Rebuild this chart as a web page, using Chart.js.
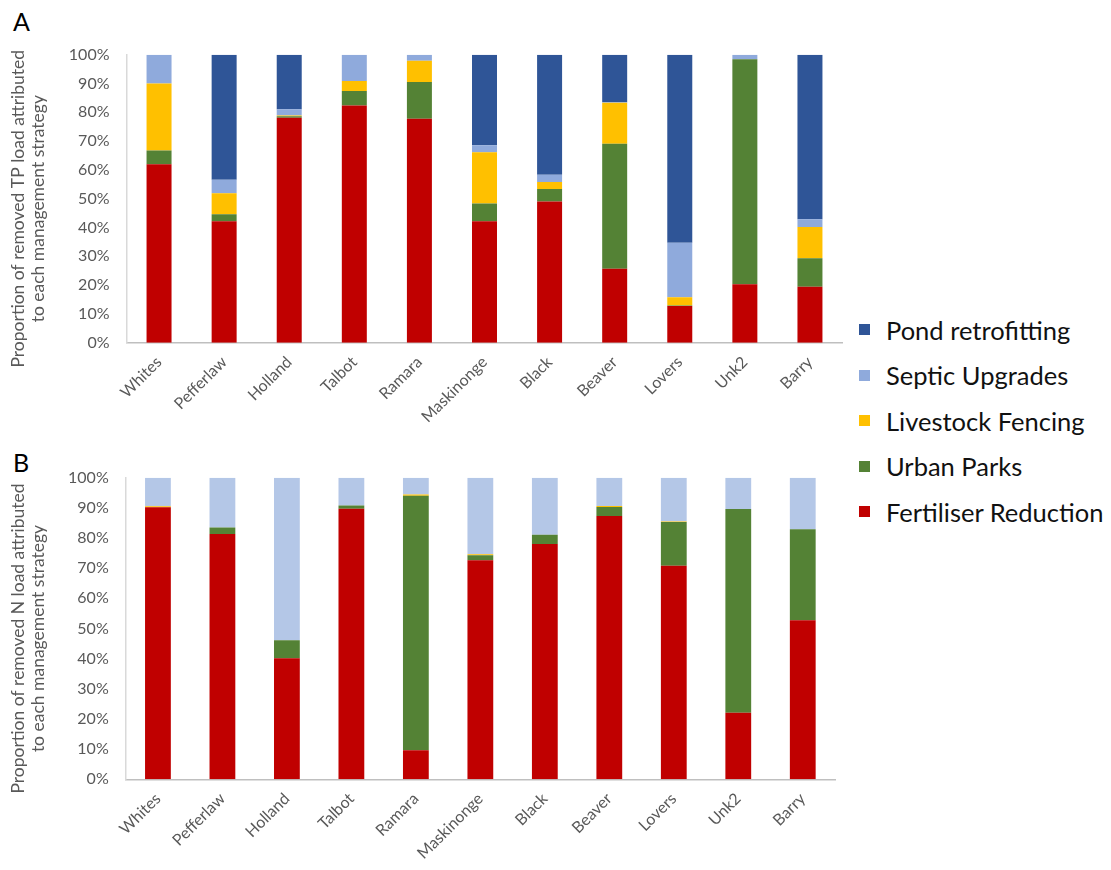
<!DOCTYPE html>
<html>
<head>
<meta charset="utf-8">
<script src="https://cdn.jsdelivr.net/npm/chart.js@4.4.1/dist/chart.umd.min.js"></script>
<style>
  html, body { margin: 0; padding: 0; background: #ffffff; }
  #wrap { position: relative; width: 1111px; height: 870px; font-family: Lato, "Open Sans", sans-serif; }
  canvas { position: absolute; left: 0; }
  #cA { top: 0; }
  #cB { top: 440px; }
  .panel { position: absolute; left: 13px; font-size: 25px; color: #000; line-height: 1; }
  #legend { position: absolute; left: 859px; top: 307px; }
  .item { display: flex; align-items: center; height: 45.5px; font-size: 25.5px; color: #111; }
  .sw { width: 11px; height: 11px; margin-right: 16px; flex: none; }
</style>
</head>
<body>
<div id="wrap">
  <div class="panel" style="top:9px">A</div>
  <div class="panel" style="top:450px">B</div>
  <canvas id="cA" width="850" height="440"></canvas>
  <canvas id="cB" width="850" height="430"></canvas>
  <div id="legend"></div>
</div>
<script>
// Sub-watersheds
const categories = ['Whites', 'Pefferlaw', 'Holland', 'Talbot', 'Ramara', 'Maskinonge', 'Black', 'Beaver', 'Lovers', 'Unk2', 'Barry'];

// Strategy names (bottom of the stack first)
const strategies = ['Fertiliser Reduction', 'Urban Parks', 'Livestock Fencing', 'Septic Upgrades', 'Pond retrofitting'];

// A: share of removed TP load (%)
const tpFertiliser = [62.0, 42.2, 78.1, 82.4, 77.8, 42.2, 49.0, 25.7, 12.7, 20.3, 19.4];
const tpUrban      = [4.7, 2.4, 0.5, 5.0, 12.7, 6.1, 4.4, 43.4, 0.2, 78.1, 9.9];
const tpLivestock  = [23.3, 7.3, 0.3, 3.5, 7.4, 17.8, 2.4, 14.2, 2.9, 0, 10.9];
const tpSeptic     = [10.0, 4.7, 2.2, 9.1, 2.1, 2.5, 2.5, 0.2, 18.9, 1.6, 2.7];
const tpPond       = [0, 43.4, 18.9, 0, 0, 31.4, 41.7, 16.5, 65.3, 0, 57.1];

// B: share of removed N load (%)
const nFertiliser = [90.2, 81.3, 40.1, 89.7, 9.6, 72.6, 78.0, 87.3, 70.8, 22.1, 52.7];
const nUrban      = [0, 2.2, 6.0, 1.1, 84.4, 1.7, 3.1, 3.0, 14.5, 67.5, 30.2];
const nLivestock  = [0.3, 0, 0, 0, 0.4, 0.3, 0, 0.3, 0.2, 0, 0];
const nSeptic     = [9.5, 16.5, 53.9, 9.2, 5.6, 25.4, 18.9, 9.4, 14.5, 10.4, 17.1];
const nPond       = [0, 0, 0, 0, 0, 0, 0, 0, 0, 0, 0];

// Y axis tick values
const yTicks = [0, 10, 20, 30, 40, 50, 60, 70, 80, 90, 100];

const colorsA = ['#c00000', '#548235', '#ffc000', '#8faadc', '#2f5597'];
const colorsB = ['#c00000', '#548235', '#ffc000', '#b4c7e7', '#2f5597'];

const FONT = 'Lato, "Open Sans", sans-serif';
const GREY = '#595959';

// Two-line rotated y-axis title, centred a little below the middle of the plot
const yTitlePlugin = {
  id: 'yTitle',
  afterDraw(chart, args, opts) {
    const { ctx, chartArea } = chart;
    const cy = (chartArea.top + chartArea.bottom) / 2 + opts.shift;
    ctx.save();
    ctx.fillStyle = GREY;
    ctx.font = opts.size + 'px ' + FONT;
    ctx.textAlign = 'center';
    ctx.textBaseline = 'middle';
    opts.lines.forEach((line, i) => {
      ctx.save();
      ctx.translate(opts.x + i * opts.lineGap, cy);
      ctx.rotate(-Math.PI / 2);
      ctx.fillText(line, 0, 0);
      ctx.restore();
    });
    ctx.restore();
  }
};

function makeChart(id, series, colors, titleLines, box) {
  const ctx = document.getElementById(id);
  return new Chart(ctx, {
    type: 'bar',
    plugins: [yTitlePlugin],
    data: {
      labels: categories,
      datasets: series.map((d, i) => ({
        label: strategies[i],
        data: d,
        backgroundColor: colors[i],
        borderWidth: 0,
        barPercentage: box.bar,
        categoryPercentage: 1
      }))
    },
    options: {
      responsive: false,
      animation: false,
      devicePixelRatio: 1,
      layout: { padding: { top: box.top, right: box.right, bottom: 0, left: 0 } },
      plugins: {
        legend: { display: false },
        tooltip: { enabled: false },
        yTitle: { lines: titleLines, x: 18, lineGap: 20, size: 17.5, shift: box.shift }
      },
      scales: {
        x: {
          stacked: true,
          grid: { display: false, drawTicks: false },
          border: { display: true, color: '#bfbfbf', width: 1.5 },
          ticks: {
            color: GREY, font: { family: FONT, size: 16 },
            minRotation: 45, maxRotation: 45, padding: 10, autoSkip: false
          },
          afterFit: s => { s.height = box.xh; }
        },
        y: {
          stacked: true,
          min: 0, max: 100,
          afterBuildTicks: s => { s.ticks = yTicks.map(v => ({ value: v })); },
          grid: { display: false, drawTicks: false },
          border: { display: true, color: '#d9d9d9', width: 1.5 },
          ticks: {
            color: GREY, font: { family: FONT, size: 16 }, padding: 17,
            callback: v => v + '%'
          },
          afterFit: s => { s.width = box.yw; }
        }
      }
    }
  });
}

makeChart('cA', [tpFertiliser, tpUrban, tpLivestock, tpSeptic, tpPond], colorsA,
  ['Proportion of removed TP load attributed', 'to each management strategy'],
  { top: 54.7, right: 7.5, xh: 97.3, yw: 126.5, bar: 0.384, shift: 10 });

makeChart('cB', [nFertiliser, nUrban, nLivestock, nSeptic, nPond], colorsB,
  ['Proportion of removed N load attributed', 'to each management strategy'],
  { top: 37.7, right: 15, xh: 90.7, yw: 125.7, bar: 0.40, shift: 10 });

// Shared legend, top entry first
const legend = document.getElementById('legend');
strategies.map((name, i) => ({ name, color: colorsA[i] })).reverse().forEach(e => {
  const row = document.createElement('div');
  row.className = 'item';
  const sw = document.createElement('span');
  sw.className = 'sw';
  sw.style.background = e.color;
  const tx = document.createElement('span');
  tx.textContent = e.name;
  row.appendChild(sw);
  row.appendChild(tx);
  legend.appendChild(row);
});
</script>
</body>
</html>
